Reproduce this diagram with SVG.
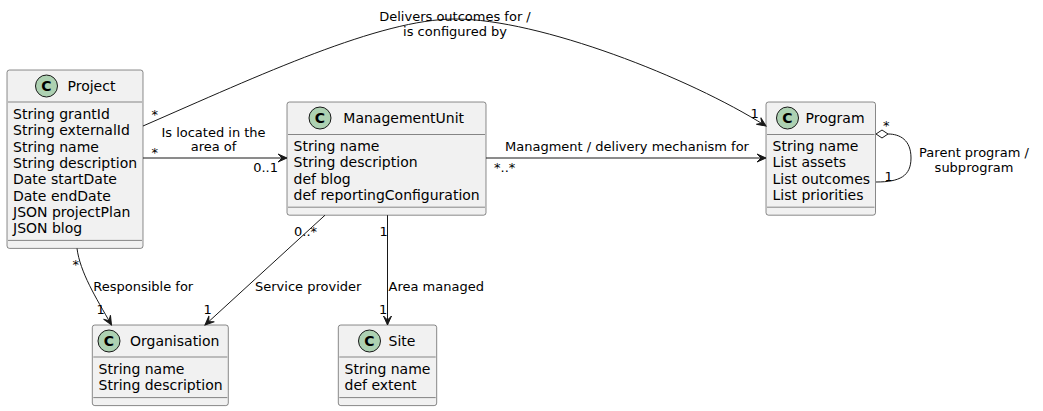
<svg xmlns="http://www.w3.org/2000/svg" width="1043" height="411" viewBox="0 0 1043 411">
<style>
.box{fill:#F1F1F1;stroke:#181818;stroke-width:0.5}
.sep{stroke:#181818;stroke-width:0.5}
.circ{fill:#ADD1B2;stroke:#181818;stroke-width:1}
text{font-family:"DejaVu Sans","Noto Sans",sans-serif;fill:#000000}
.t{font-size:14px}
.ci{font-size:14px;font-weight:bold;text-anchor:middle}
.l{font-size:13px}
.m{font-size:13px;text-anchor:middle}
.edge{fill:none;stroke:#181818;stroke-width:1}
.head{fill:#181818;stroke:#181818;stroke-width:1}
</style>
<defs>
<polygon id="arr" class="head" points="0,0 -9,-4 -5,0 -9,4"/>
</defs>
<rect width="1043" height="411" fill="#FFFFFF"/>

<g id="Project">
<rect class="box" x="7" y="70" width="136" height="178.4" rx="2.5"/>
<circle class="circ" cx="46.5" cy="86" r="11"/>
<text class="ci" x="46.5" y="91">C</text>
<text class="t" x="67.5" y="90.9">Project</text>
<line class="sep" x1="8" y1="102" x2="142" y2="102"/>
<text class="t" x="13" y="119">String grantId</text>
<text class="t" x="13" y="135.3">String externalId</text>
<text class="t" x="13" y="151.6">String name</text>
<text class="t" x="13" y="167.9">String description</text>
<text class="t" x="13" y="184.2">Date startDate</text>
<text class="t" x="13" y="200.5">Date endDate</text>
<text class="t" x="13" y="216.8">JSON projectPlan</text>
<text class="t" x="13" y="233.1">JSON blog</text>
<line class="sep" x1="8" y1="240.4" x2="142" y2="240.4"/>
</g>

<g id="ManagementUnit">
<rect class="box" x="287" y="102" width="199" height="113.2" rx="2.5"/>
<circle class="circ" cx="320" cy="118" r="11"/>
<text class="ci" x="320" y="123">C</text>
<text class="t" x="343.3" y="122.9">ManagementUnit</text>
<line class="sep" x1="288" y1="134.5" x2="485" y2="134.5"/>
<text class="t" x="293.5" y="151">String name</text>
<text class="t" x="293.5" y="167.3">String description</text>
<text class="t" x="293.5" y="183.6">def blog</text>
<text class="t" x="293.5" y="199.9">def reportingConfiguration</text>
<line class="sep" x1="288" y1="207.2" x2="485" y2="207.2"/>
</g>

<g id="Program">
<rect class="box" x="766" y="102" width="109.5" height="113.2" rx="2.5"/>
<circle class="circ" cx="787.5" cy="118" r="11"/>
<text class="ci" x="787.5" y="123">C</text>
<text class="t" x="805.5" y="122.9">Program</text>
<line class="sep" x1="767" y1="134.5" x2="874.5" y2="134.5"/>
<text class="t" x="772.5" y="151">String name</text>
<text class="t" x="772.5" y="167.3">List assets</text>
<text class="t" x="772.5" y="183.6">List outcomes</text>
<text class="t" x="772.5" y="199.9">List priorities</text>
<line class="sep" x1="767" y1="207.2" x2="874.5" y2="207.2"/>
</g>

<g id="Organisation">
<rect class="box" x="92.3" y="325" width="136" height="80.6" rx="2.5"/>
<circle class="circ" cx="109" cy="341" r="11"/>
<text class="ci" x="109" y="346">C</text>
<text class="t" x="130" y="345.9">Organisation</text>
<line class="sep" x1="93.3" y1="357" x2="227.3" y2="357"/>
<text class="t" x="98.5" y="374">String name</text>
<text class="t" x="98.5" y="390.3">String description</text>
<line class="sep" x1="93.3" y1="397.6" x2="227.3" y2="397.6"/>
</g>

<g id="Site">
<rect class="box" x="338.3" y="325" width="98.4" height="80.6" rx="2.5"/>
<circle class="circ" cx="369.5" cy="341" r="11"/>
<text class="ci" x="369.5" y="346">C</text>
<text class="t" x="388.5" y="345.9">Site</text>
<line class="sep" x1="339.3" y1="357" x2="435.7" y2="357"/>
<text class="t" x="344.5" y="374">String name</text>
<text class="t" x="344.5" y="390.3">def extent</text>
<line class="sep" x1="339.3" y1="397.6" x2="435.7" y2="397.6"/>
</g>

<g id="connectors">
<!-- Project -> Program -->
<path class="edge" d="M143,126 C260,75 380,19 455,19 C540,19 690,78 765,125.5"/>
<use href="#arr" transform="translate(766,126) rotate(34)"/>
<text class="m" x="455" y="21">Delivers outcomes for /</text>
<text class="m" x="455" y="36">is configured by</text>
<text class="l" x="151.5" y="119.3">*</text>
<text class="l" x="750.5" y="117.5">1</text>

<!-- Project -> ManagementUnit -->
<path class="edge" d="M143,158 L286,158"/>
<use href="#arr" transform="translate(287,158)"/>
<text class="m" x="213.5" y="136.7">Is located in the</text>
<text class="m" x="213.5" y="150.8">area of</text>
<text class="l" x="151.5" y="157">*</text>
<text class="l" x="278" y="171.5" text-anchor="end">0..1</text>

<!-- ManagementUnit -> Program -->
<path class="edge" d="M486,158 L765,158"/>
<use href="#arr" transform="translate(766,158)"/>
<text class="m" x="627" y="150.7">Managment / delivery mechanism for</text>
<text class="l" x="494" y="171.5">*..*</text>

<!-- Program self-aggregation -->
<polygon class="edge" fill="none" points="876,134 882,130 888,134 882,138"/>
<path class="edge" d="M888,134 C900,134 911,140 911,158 C911,176 900,182 876,182"/>
<text class="l" x="883" y="130">*</text>
<text class="l" x="884.5" y="181">1</text>
<text class="m" x="974" y="156.7">Parent program /</text>
<text class="m" x="974" y="171.8">subprogram</text>

<!-- Project -> Organisation -->
<path class="edge" d="M77,248.4 C80,272 96,298 111,324"/>
<use href="#arr" transform="translate(111.5,325) rotate(60)"/>
<text class="l" x="72.5" y="269.2">*</text>
<text class="l" x="93.3" y="290.5">Responsible for</text>
<text class="l" x="96.5" y="314">1</text>

<!-- ManagementUnit -> Organisation -->
<path class="edge" d="M325,215.2 L205.7,324.4"/>
<use href="#arr" transform="translate(205,325) rotate(137.5)"/>
<text class="l" x="294" y="236.3">0..*</text>
<text class="l" x="255" y="290.5">Service provider</text>
<text class="l" x="203.5" y="314">1</text>

<!-- ManagementUnit -> Site -->
<path class="edge" d="M387.5,215.2 L387.5,324"/>
<use href="#arr" transform="translate(387.5,325) rotate(90)"/>
<text class="l" x="379.5" y="236.3">1</text>
<text class="l" x="388.5" y="290.5">Area managed</text>
<text class="l" x="379" y="314">1</text>
</g>
</svg>
